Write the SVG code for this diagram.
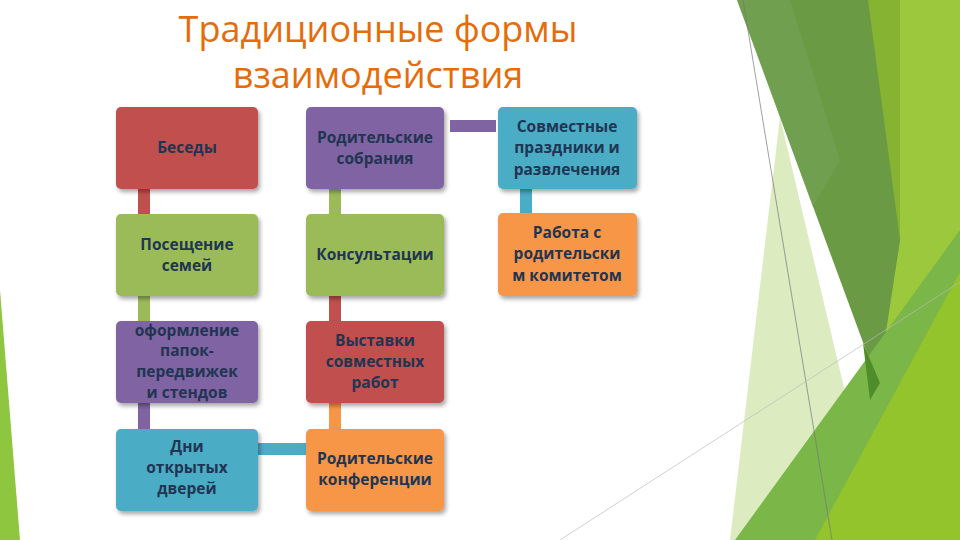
<svg xmlns="http://www.w3.org/2000/svg" width="960" height="540" viewBox="0 0 960 540">
<defs>
<filter id="sh" x="-10%" y="-10%" width="130%" height="130%"><feDropShadow dx="2" dy="3" stdDeviation="2" flood-opacity="0.35"/></filter>
<style>
.b{filter:url(#sh);rx:5px}
.t{font-family:"Open Sans","Liberation Sans",sans-serif;font-weight:bold;font-size:15.5px;fill:#1f3552;text-anchor:middle}
.ttl{font-family:"Open Sans","Liberation Sans",sans-serif;font-size:36px;fill:#e46c0a;text-anchor:middle}
.r{fill:#c0504d}.g{fill:#9bbb59}.p{fill:#8064a2}.c{fill:#4bacc6}.o{fill:#f79646}
</style>
</defs>
<rect width="960" height="540" fill="#fff"/>
<g id="decor">
<polygon points="860,0 960,0 960,540 880,540" fill="#9bc83c"/>
<polygon points="860,0 900,0 900,240 878,383" fill="#86b332"/>
<polygon points="780,117 880,540 730,540" fill="#dcebc0"/>
<polygon points="737,0 868,0 900,240 878,383" fill="#6a9a44"/>
<polygon points="737,0 790,0 840,160 813,207" fill="#74a556" opacity="0.6"/>
<polygon points="735,540 960,230 960,540" fill="#7ab648"/>
<polygon points="815,540 960,272 960,540" fill="#93c42c"/>
<polygon points="863,343 880,383 870,400" fill="#4f8c2a"/>
<polygon points="0,290 20,540 0,540" fill="#8ec63f"/>
<line x1="743" y1="0" x2="832" y2="540" stroke="#777" stroke-width="0.7"/>
<line x1="960" y1="282" x2="560" y2="540" stroke="#bbb" stroke-width="0.7"/>
</g>
<text class="ttl" x="378" y="42">Традиционные формы</text>
<text class="ttl" x="378" y="88">взаимодействия</text>
<g id="connectors">
<rect class="r" x="138" y="189" width="12" height="25"/>
<rect class="g" x="138" y="296" width="12" height="25"/>
<rect class="p" x="138" y="403" width="12" height="26"/>
<rect class="c" x="258" y="443" width="48" height="12"/>
<rect class="o" x="329" y="403" width="12" height="26"/>
<rect class="r" x="329" y="296" width="12" height="25"/>
<rect class="g" x="329" y="189" width="12" height="25"/>
<rect class="p" x="450" y="120" width="46" height="12"/>
<rect class="c" x="520" y="189" width="12" height="24"/>
</g>
<g id="n1"><rect class="b r" x="116" y="107" width="142" height="82"/><text class="t" x="187" y="153">Беседы</text></g>
<g id="n2"><rect class="b g" x="116" y="214" width="142" height="82"/><text class="t" x="187" y="250">Посещение</text><text class="t" x="187" y="271">семей</text></g>
<g id="n3"><rect class="b p" x="116" y="321" width="142" height="82"/><text class="t" x="187" y="336">оформление</text><text class="t" x="187" y="356">папок-</text><text class="t" x="187" y="377">передвижек</text><text class="t" x="187" y="398">и стендов</text></g>
<g id="n4"><rect class="b c" x="116" y="429" width="142" height="82"/><text class="t" x="187" y="452">Дни</text><text class="t" x="187" y="473">открытых</text><text class="t" x="187" y="494">дверей</text></g>
<g id="n5"><rect class="b p" x="306" y="107" width="138" height="82"/><text class="t" x="375" y="143">Родительские</text><text class="t" x="375" y="164">собрания</text></g>
<g id="n6"><rect class="b g" x="306" y="214" width="138" height="82"/><text class="t" x="375" y="260">Консультации</text></g>
<g id="n7"><rect class="b r" x="306" y="321" width="138" height="82"/><text class="t" x="375" y="346">Выставки</text><text class="t" x="375" y="367">совместных</text><text class="t" x="375" y="388">работ</text></g>
<g id="n8"><rect class="b o" x="306" y="429" width="138" height="82"/><text class="t" x="375" y="464">Родительские</text><text class="t" x="375" y="485">конференции</text></g>
<g id="n9"><rect class="b c" x="498" y="107" width="139" height="82"/><text class="t" x="567" y="132">Совместные</text><text class="t" x="567" y="153">праздники и</text><text class="t" x="567" y="175">развлечения</text></g>
<g id="n10"><rect class="b o" x="498" y="213" width="139" height="83"/><text class="t" x="567" y="238">Работа с</text><text class="t" x="567" y="259">родительски</text><text class="t" x="567" y="281">м комитетом</text></g>
</svg>
